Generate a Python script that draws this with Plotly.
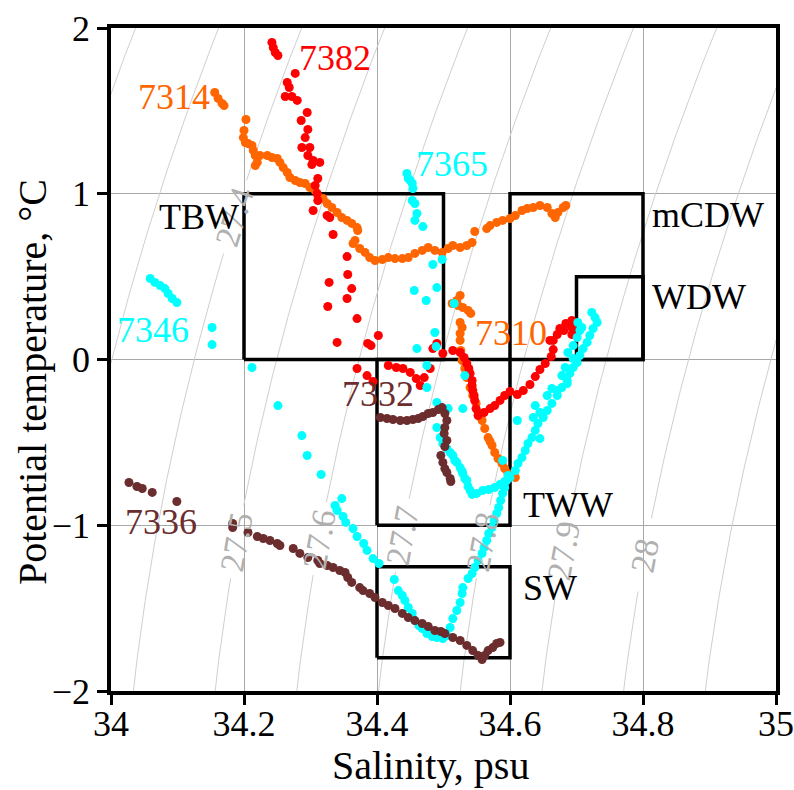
import numpy as np
import plotly.graph_objects as go

FONT = "Liberation Serif"

# ---- station profiles: salinity (psu) and potential temperature (degC) ----
s_7314 = [34.156, 34.161, 34.167, 34.170, 34.203, 34.200, 34.199, 34.202, 34.206, 34.212,
          34.214, 34.217, 34.220, 34.217, 34.224, 34.235, 34.242, 34.250, 34.254, 34.259,
          34.265, 34.269, 34.277, 34.284, 34.292, 34.299, 34.307, 34.311, 34.319, 34.325,
          34.332, 34.340, 34.347, 34.355, 34.362, 34.370, 34.371, 34.367, 34.364, 34.374,
          34.382, 34.389, 34.397, 34.408, 34.417, 34.427, 34.438, 34.447, 34.457, 34.468,
          34.477, 34.487, 34.498, 34.507, 34.514, 34.525, 34.535, 34.543, 34.547, 34.565,
          34.570, 34.580, 34.589, 34.600, 34.608, 34.618, 34.626, 34.635, 34.645, 34.656,
          34.663, 34.668, 34.672, 34.680, 34.684]
t_7314 = [1.611, 1.575, 1.545, 1.532, 1.448, 1.382, 1.339, 1.309, 1.303, 1.291,
          1.261, 1.231, 1.189, 1.170, 1.231, 1.231, 1.219, 1.213, 1.189, 1.158,
          1.128, 1.098, 1.080, 1.068, 1.062, 1.038, 1.020, 0.989, 0.971, 0.941,
          0.917, 0.887, 0.857, 0.839, 0.821, 0.796, 0.778, 0.718, 0.700, 0.670,
          0.646, 0.615, 0.597, 0.603, 0.615, 0.609, 0.609, 0.615, 0.640, 0.658,
          0.676, 0.658, 0.646, 0.670, 0.688, 0.676, 0.688, 0.706, 0.772, 0.790,
          0.808, 0.827, 0.839, 0.851, 0.869, 0.899, 0.911, 0.917, 0.929, 0.917,
          0.881, 0.857, 0.887, 0.917, 0.929]

s_7310 = [34.525, 34.520, 34.513, 34.522, 34.529, 34.537, 34.541, 34.525, 34.528, 34.525,
          34.525, 34.526, 34.528, 34.532, 34.535, 34.540, 34.544, 34.549, 34.552, 34.555,
          34.558, 34.562, 34.567, 34.570, 34.573, 34.577, 34.582, 34.588, 34.592, 34.597,
          34.603, 34.608]
t_7310 = [0.386, 0.356, 0.338, 0.326, 0.314, 0.296, 0.278, 0.223, 0.193, 0.157,
          0.115, 0.054, -0.006, -0.054, -0.109, -0.169, -0.217, -0.265, -0.320, -0.344,
          -0.368, -0.416, -0.471, -0.495, -0.519, -0.561, -0.597, -0.627, -0.658, -0.688,
          -0.700, -0.712]

s_7382 = [34.242, 34.244, 34.247, 34.251, 34.277, 34.265, 34.268, 34.262, 34.272, 34.280,
          34.295, 34.286, 34.296, 34.292, 34.287, 34.299, 34.296, 34.304, 34.314, 34.302,
          34.311, 34.307, 34.310, 34.311, 34.304, 34.325, 34.329, 34.334, 34.355, 34.356,
          34.328, 34.362, 34.355, 34.326, 34.370, 34.402, 34.340, 34.386, 34.391, 34.370,
          34.385, 34.394, 34.417, 34.429, 34.439, 34.450, 34.459, 34.465, 34.471, 34.480,
          34.484, 34.490, 34.499, 34.514, 34.525, 34.531, 34.535, 34.538, 34.540, 34.543,
          34.543, 34.544, 34.546, 34.547, 34.549, 34.552, 34.561, 34.570, 34.577, 34.585,
          34.592, 34.600, 34.611, 34.620, 34.630, 34.638, 34.645, 34.653, 34.662, 34.665,
          34.665, 34.671, 34.675, 34.684, 34.693, 34.693, 34.693, 34.681, 34.660]
t_7382 = [1.913, 1.882, 1.852, 1.834, 1.726, 1.671, 1.641, 1.587, 1.587, 1.563,
          1.490, 1.442, 1.388, 1.339, 1.279, 1.279, 1.231, 1.201, 1.189, 1.176,
          1.092, 1.050, 1.002, 0.959, 0.899, 0.869, 0.857, 0.754, 0.621, 0.513,
          0.465, 0.428, 0.368, 0.320, 0.247, 0.145, 0.103, 0.097, 0.084, -0.054,
          -0.097, -0.133, -0.036, -0.048, -0.054, -0.078, -0.115, -0.157, -0.109, -0.054,
          0.066, 0.097, 0.036, 0.054, 0.042, 0.012, -0.024, -0.054, -0.084, -0.127,
          -0.157, -0.187, -0.217, -0.247, -0.296, -0.338, -0.320, -0.296, -0.278, -0.247,
          -0.217, -0.193, -0.211, -0.187, -0.151, -0.103, -0.060, -0.024, 0.018, 0.060,
          0.115, 0.151, 0.187, 0.217, 0.235, 0.193, 0.151, 0.175, 0.115]

s_7346 = [34.059, 34.066, 34.074, 34.081, 34.086, 34.092, 34.099, 34.152, 34.152, 34.212,
          34.251, 34.287, 34.295, 34.316, 34.347, 34.337, 34.340, 34.349, 34.353, 34.364,
          34.370, 34.380, 34.385, 34.394, 34.403, 34.426, 34.432, 34.438, 34.442, 34.447,
          34.453, 34.457, 34.463, 34.468, 34.475, 34.483, 34.490, 34.499, 34.505, 34.510,
          34.514, 34.520, 34.525, 34.528, 34.529, 34.537, 34.543, 34.547, 34.552, 34.558,
          34.561, 34.565, 34.568, 34.573, 34.576, 34.580, 34.583, 34.586, 34.589, 34.592,
          34.595, 34.597]
t_7346 = [0.489, 0.465, 0.446, 0.428, 0.398, 0.368, 0.344, 0.193, 0.090, -0.048,
          -0.278, -0.459, -0.579, -0.694, -0.839, -0.881, -0.911, -0.947, -0.983, -1.020,
          -1.068, -1.110, -1.152, -1.201, -1.231, -1.327, -1.394, -1.424, -1.454, -1.496,
          -1.532, -1.575, -1.605, -1.623, -1.653, -1.671, -1.677, -1.683, -1.665, -1.617,
          -1.563, -1.514, -1.466, -1.412, -1.376, -1.321, -1.291, -1.255, -1.213, -1.170,
          -1.134, -1.092, -1.050, -1.014, -0.971, -0.929, -0.893, -0.851, -0.808, -0.772,
          -0.730, -0.700]

s_7365 = [34.445, 34.447, 34.450, 34.453, 34.454, 34.453, 34.457, 34.460, 34.457, 34.469,
          34.498, 34.484, 34.490, 34.456, 34.474, 34.516, 34.487, 34.489, 34.460, 34.475,
          34.532, 34.475, 34.490, 34.507, 34.529, 34.490, 34.495, 34.499, 34.505, 34.510,
          34.514, 34.517, 34.520, 34.525, 34.528, 34.529, 34.532, 34.535, 34.537, 34.540,
          34.543, 34.550, 34.559, 34.568, 34.577, 34.585, 34.592, 34.600,
          34.608, 34.612, 34.618, 34.623, 34.627, 34.633, 34.638, 34.642, 34.650, 34.656,
          34.663, 34.671, 34.678, 34.686, 34.690, 34.695, 34.701, 34.705, 34.710, 34.716,
          34.720, 34.725, 34.731, 34.728, 34.723,
          34.708, 34.702, 34.705, 34.701, 34.695, 34.687, 34.695, 34.683, 34.678, 34.686,
          34.671, 34.663, 34.656, 34.645, 34.638, 34.635, 34.611, 34.645, 34.589]
t_7365 = [1.122, 1.092, 1.080, 1.062, 1.032, 0.959, 0.941, 0.881, 0.839, 0.802,
          0.603, 0.573, 0.434, 0.416, 0.356, 0.338, 0.163, 0.078, 0.066, -0.036,
          -0.097, -0.169, -0.259, -0.296, -0.296, -0.410, -0.471, -0.507, -0.537, -0.561,
          -0.579, -0.609, -0.621, -0.652, -0.676, -0.688, -0.718, -0.730, -0.766, -0.790,
          -0.814, -0.808, -0.790, -0.784, -0.772, -0.754, -0.736, -0.712,
          -0.670, -0.627, -0.591, -0.549, -0.507, -0.471, -0.428, -0.386, -0.350, -0.308,
          -0.265, -0.217, -0.169, -0.127, -0.084, -0.048, -0.018, 0.024, 0.066, 0.103,
          0.145, 0.187, 0.223, 0.253, 0.284,
          0.193, 0.223, 0.175, 0.133, 0.084, 0.042, 0.006, -0.048, -0.097, -0.145,
          -0.187, -0.175, -0.217, -0.320, -0.278, -0.350, -0.368, -0.477, -0.609]

s_7332 = [34.405, 34.415, 34.424, 34.435, 34.445, 34.454, 34.462, 34.469, 34.477, 34.484,
          34.492, 34.498, 34.502, 34.505, 34.502, 34.501, 34.505, 34.502, 34.496, 34.499,
          34.502, 34.505, 34.510, 34.511]
t_7332 = [-0.350, -0.356, -0.362, -0.368, -0.368, -0.362, -0.356, -0.344, -0.326, -0.320,
          -0.302, -0.290, -0.326, -0.368, -0.410, -0.446, -0.489, -0.525, -0.579, -0.621,
          -0.658, -0.682, -0.718, -0.736]

s_7336 = [34.027, 34.039, 34.047, 34.062, 34.099, 34.183, 34.183, 34.206, 34.220, 34.229,
          34.239, 34.250, 34.254, 34.274, 34.284, 34.296, 34.311, 34.314, 34.325, 34.334,
          34.344, 34.352, 34.356, 34.362, 34.374, 34.379, 34.389, 34.397, 34.408, 34.417,
          34.427, 34.438, 34.447, 34.457, 34.468, 34.477, 34.487, 34.496, 34.502, 34.514,
          34.525, 34.535, 34.544, 34.552, 34.558, 34.562, 34.567, 34.574, 34.580, 34.585]
t_7336 = [-0.742, -0.766, -0.778, -0.802, -0.857, -0.989, -1.014, -1.044, -1.068, -1.080,
          -1.092, -1.110, -1.122, -1.140, -1.170, -1.195, -1.213, -1.231, -1.243, -1.255,
          -1.273, -1.285, -1.315, -1.345, -1.376, -1.394, -1.412, -1.436, -1.466, -1.484,
          -1.502, -1.532, -1.557, -1.575, -1.593, -1.611, -1.635, -1.641, -1.653, -1.677,
          -1.695, -1.725, -1.756, -1.786, -1.810, -1.786, -1.756, -1.738, -1.713, -1.707]

ORANGE = "#ff6600"
RED = "#ff0000"
CYAN = "#00ffff"
BROWN = "#6b2d2d"

stations = [
    ("7314", s_7314, t_7314, ORANGE),
    ("7310", s_7310, t_7310, ORANGE),
    ("7382", s_7382, t_7382, RED),
    ("7346", s_7346, t_7346, CYAN),
    ("7365", s_7365, t_7365, CYAN),
    ("7332", s_7332, t_7332, BROWN),
    ("7336", s_7336, t_7336, BROWN),
]

# station label anchors (centre of text)
st_label_names = ["7382", "7314", "7365", "7346", "7310", "7332", "7336"]
st_label_s = [34.337, 34.094, 34.513, 34.063, 34.602, 34.401, 34.075]
st_label_t = [1.82, 1.585, 1.18, 0.175, 0.16, -0.208, -0.98]
st_label_col = [RED, ORANGE, CYAN, CYAN, ORANGE, BROWN, BROWN]

# ---- water-mass boxes ----
box_names = ["TBW", "mCDW", "WDW", "TWW", "SW"]
box_s_min = [34.2, 34.6, 34.7, 34.4, 34.4]
box_s_max = [34.5, 34.8, 34.8, 34.6, 34.6]
box_t_min = [0.0, 0.0, 0.0, -1.0, -1.8]
box_t_max = [1.0, 1.0, 0.5, 0.0, -1.25]
box_label_s = [34.195, 34.81, 34.81, 34.616, 34.616]
box_label_t = [0.86, 0.87, 0.375, -0.875, -1.38]
box_label_anchor = ["right", "left", "left", "left", "left"]

# ---- potential density (sigma-theta) isolines ----
sigma_levels = [27.0, 27.1, 27.2, 27.3, 27.4, 27.5, 27.6, 27.7, 27.8, 27.9, 28.0, 28.1, 28.2, 28.3]
sigma_label_levels = [27.4, 27.5, 27.6, 27.7, 27.8, 27.9, 28.0]
sigma_label_text = ["27.4", "27.5", "27.6", "27.7", "27.8", "27.9", "28"]
sigma_label_t = [0.86, -1.10, -1.08, -1.06, -1.10, -1.15, -1.18]

X_RANGE = [34.0, 35.0]
Y_RANGE = [-2.0, 2.0]
W, H = 794, 790
M = dict(l=111, r=18, t=28, b=99)
PLOT_W = W - M["l"] - M["r"]
PLOT_H = H - M["t"] - M["b"]
px_per_s = PLOT_W / (X_RANGE[1] - X_RANGE[0])
px_per_t = PLOT_H / (Y_RANGE[1] - Y_RANGE[0])


def sigma0(S, T):
    """UNESCO (1983) sea-water density at surface pressure, minus 1000."""
    rw = (999.842594 + 6.793952e-2 * T - 9.095290e-3 * T**2 + 1.001685e-4 * T**3
          - 1.120083e-6 * T**4 + 6.536332e-9 * T**5)
    A = 0.824493 - 4.0899e-3 * T + 7.6438e-5 * T**2 - 8.2467e-7 * T**3 + 5.3875e-9 * T**4
    B = -5.72466e-3 + 1.0227e-4 * T - 1.6546e-6 * T**2
    C = 4.8314e-4
    return rw + A * S + B * S**1.5 + C * S**2 - 1000.0


s_grid = np.linspace(33.0, 36.5, 7001)


def iso_salinity(level, T):
    return float(np.interp(level, sigma0(s_grid, T), s_grid))


t_grid = np.linspace(-2.2, 2.2, 221)

fig = go.Figure()

gap = 0.21
for lev in sigma_levels:
    t_lab = None
    if lev in sigma_label_levels:
        t_lab = sigma_label_t[sigma_label_levels.index(lev)]
    xs, ys = [], []
    for T in t_grid:
        if t_lab is not None and abs(T - t_lab) < gap:
            xs.append(None)
            ys.append(None)
            continue
        xs.append(iso_salinity(lev, T))
        ys.append(float(T))
    fig.add_trace(go.Scatter(x=xs, y=ys, mode="lines", hoverinfo="skip",
                             line=dict(color="#cfcfcf", width=1)))

# water-mass boxes
bx, by = [], []
for s0, s1, t0, t1 in zip(box_s_min, box_s_max, box_t_min, box_t_max):
    bx += [s0, s1, s1, s0, s0, None]
    by += [t0, t0, t1, t1, t0, None]
fig.add_trace(go.Scatter(x=bx, y=by, mode="lines", hoverinfo="skip",
                         line=dict(color="black", width=3.5)))

# station points
for name, s, t, col in stations:
    fig.add_trace(go.Scatter(x=s, y=t, mode="markers", name=name,
                             marker=dict(color=col, size=9, line=dict(width=0))))

annotations = []
# density labels along the isolines
for lev, txt, t_lab in zip(sigma_label_levels, sigma_label_text, sigma_label_t):
    s_lab = iso_salinity(lev, t_lab)
    ds = iso_salinity(lev, t_lab + 0.05) - iso_salinity(lev, t_lab - 0.05)
    ang = np.degrees(np.arctan2(0.1 * px_per_t, ds * px_per_s))
    annotations.append(dict(x=s_lab, y=t_lab, text=txt, showarrow=False, textangle=-ang,
                            xanchor="center", yanchor="middle",
                            font=dict(family=FONT, size=34, color="#b0b0b0")))

for txt, s, t, anc in zip(box_names, box_label_s, box_label_t, box_label_anchor):
    annotations.append(dict(x=s, y=t, text=txt, showarrow=False, xanchor=anc,
                            yanchor="middle", font=dict(family=FONT, size=36, color="black")))

for txt, s, t, col in zip(st_label_names, st_label_s, st_label_t, st_label_col):
    annotations.append(dict(x=s, y=t, text=txt, showarrow=False, xanchor="center",
                            yanchor="middle", font=dict(family=FONT, size=36, color=col)))

# axis titles
TITLE_FONT = dict(family=FONT, size=40, color="black")
annotations.append(dict(text="Salinity, psu", xref="paper", yref="paper",
                        x=(430 - M["l"]) / PLOT_W, y=-(765 - (H - M["b"])) / PLOT_H,
                        xanchor="center", yanchor="middle", showarrow=False, font=TITLE_FONT))
annotations.append(dict(text="Potential temperature, \u00b0C", xref="paper", yref="paper",
                        x=-(M["l"] - 32) / PLOT_W, y=((H - M["b"]) - 382) / PLOT_H,
                        textangle=-90, xanchor="center", yanchor="middle",
                        showarrow=False, font=TITLE_FONT))

axis_common = dict(showgrid=True, gridcolor="#a8a8a8", gridwidth=1, zeroline=False,
                   showline=True, linecolor="black", linewidth=3.5, mirror=True,
                   ticks="outside", ticklen=10, tickwidth=3, tickcolor="black",
                   automargin=False,
                   tickfont=dict(family=FONT, size=36, color="black"))

x_ticks = [34.0, 34.2, 34.4, 34.6, 34.8, 35.0]
x_ticktext = ["34", "34.2", "34.4", "34.6", "34.8", "35"]
y_ticks = [-2, -1, 0, 1, 2]

fig.update_layout(
    width=W, height=H, margin=M,
    plot_bgcolor="white", paper_bgcolor="white", showlegend=False,
    xaxis=dict(range=X_RANGE, tickvals=x_ticks, ticktext=x_ticktext,
               ticklabelstandoff=-12, **axis_common),
    yaxis=dict(range=Y_RANGE, tickvals=y_ticks, **axis_common),
    annotations=annotations,
)

fig.write_html("out.html")
